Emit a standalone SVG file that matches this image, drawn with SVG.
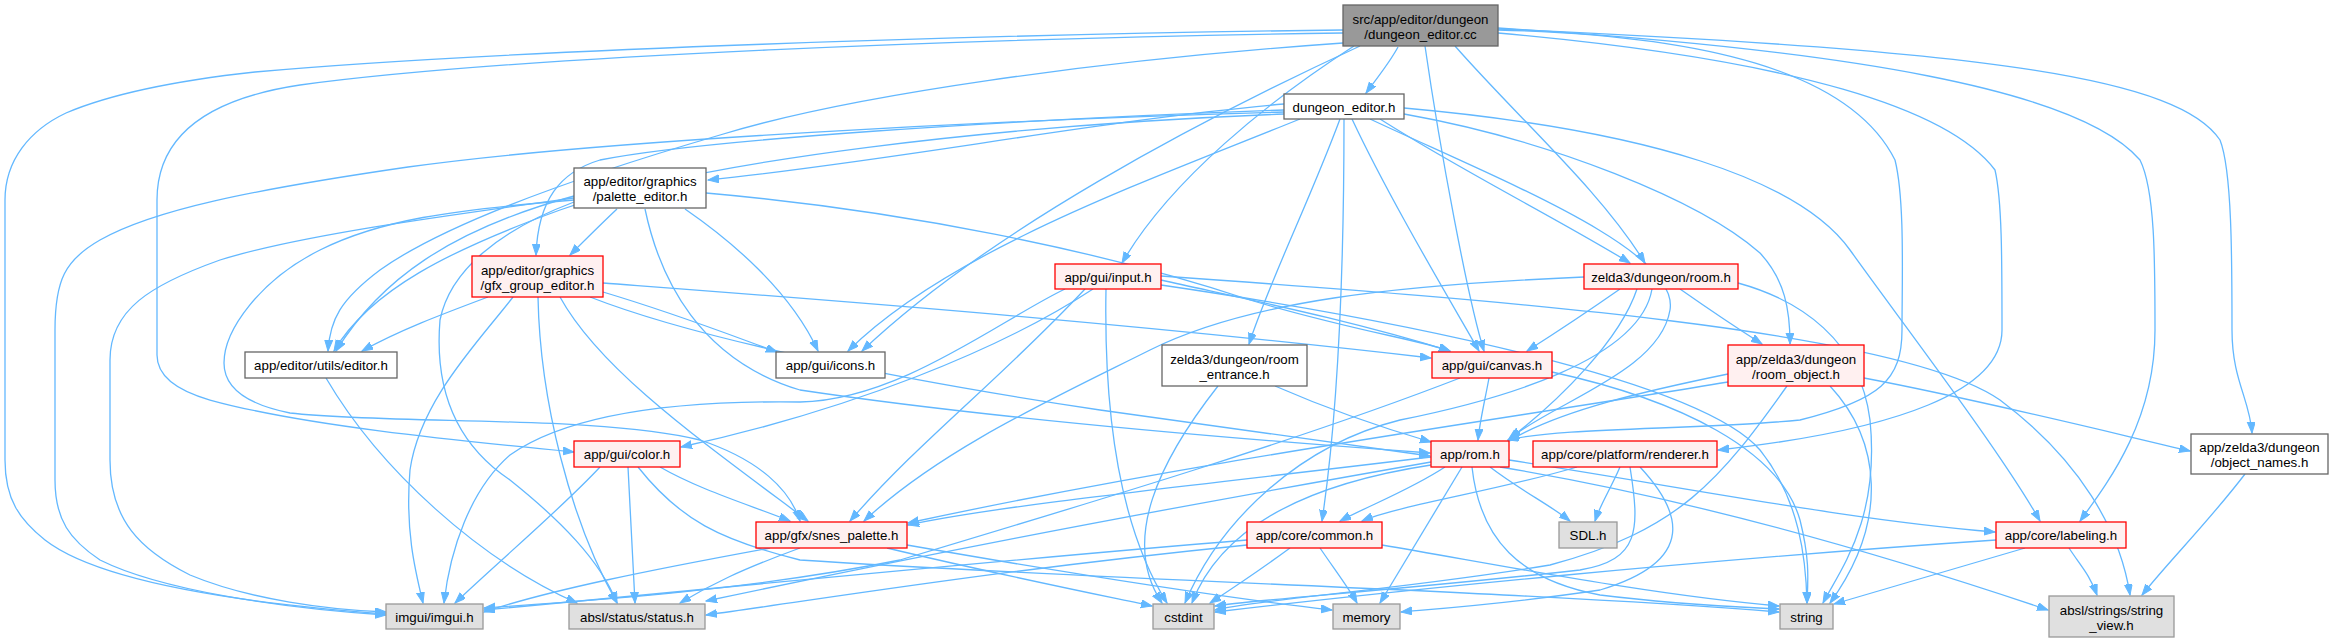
<svg xmlns="http://www.w3.org/2000/svg" width="2334" height="642" viewBox="0 0 2334 642">
<style>
.e path{fill:none;stroke:#63b8ff;stroke-width:1.3;marker-end:url(#a)}
.nd rect{stroke-width:1.3}
.w{fill:#ffffff;stroke:#666666}
.r{fill:#fff0f0;stroke:#ff0000}
.g{fill:#e0e0e0;stroke:#999999}
.m{fill:#999999;stroke:#666666}
text{font-family:"Liberation Sans",Arial,Helvetica,sans-serif;font-size:13.3px;fill:#000;text-anchor:middle}
</style>
<defs>
<marker id="a" markerUnits="userSpaceOnUse" markerWidth="12" markerHeight="9" refX="11" refY="4" orient="auto">
<path d="M0,0 L11,4 L0,8 z" fill="#63b8ff" stroke="#63b8ff" stroke-width="1"/>
</marker>
</defs>
<rect width="2334" height="642" fill="#ffffff"/>
<g class="e" id="edges">
<path d="M1398,47 C1390,62 1378,77 1366,93"/>
<path d="M1343,30 C1000,34 500,50 255,72 C200,78 120,90 66,113 C30,130 5,160 5,200 L5,460 C5,500 20,520 45,540 C90,575 200,600 386,614"/>
<path d="M1343,33 C1000,38 520,55 300,85 C200,100 157,140 157,200 L157,355 C157,375 175,390 210,400 C300,425 450,440 574,452"/>
<path d="M1360,46 C1200,120 990,230 862,351"/>
<path d="M1354,46 C1270,100 1170,180 1122,263"/>
<path d="M1425,46 C1440,150 1468,300 1484,351"/>
<path d="M1498,30 C1700,35 1850,70 1895,160 C1905,200 1902,280 1902,330 C1902,380 1880,400 1800,420 C1700,430 1560,427 1508,440"/>
<path d="M1455,46 C1520,120 1600,190 1645,263"/>
<path d="M1498,33 C1800,60 1950,110 1995,170 C2002,200 2002,260 2002,330 C2002,390 1900,430 1718,450"/>
<path d="M1498,28 C1850,50 2080,90 2140,160 C2155,190 2155,260 2155,330 C2155,420 2110,480 2080,521"/>
<path d="M1498,29 C2000,50 2180,80 2220,140 C2232,170 2232,260 2232,330 C2232,380 2250,400 2252,433"/>
<path d="M1343,43 C1100,60 850,95 720,135 C600,170 450,220 380,270 C340,300 330,320 328,351"/>
<path d="M1284,104 C1100,120 900,160 708,180"/>
<path d="M1284,110 C1000,120 700,140 600,160 C560,172 538,200 536,255"/>
<path d="M1284,112 C1000,120 600,140 408,167 C250,190 153,210 100,240 C65,260 55,280 55,330 L55,480 C55,520 70,540 100,560 C160,590 280,608 386,615"/>
<path d="M1284,114 C1000,125 700,160 560,210 C450,250 370,290 334,351"/>
<path d="M1300,119 C1150,180 950,250 848,351"/>
<path d="M1352,119 C1390,200 1450,300 1479,351"/>
<path d="M1370,119 C1500,180 1680,250 1670,310 C1660,370 1560,400 1510,438"/>
<path d="M1380,119 C1460,170 1560,220 1630,263"/>
<path d="M1340,119 C1310,200 1270,280 1249,344"/>
<path d="M1404,114 C1550,140 1700,200 1760,253 C1785,280 1790,310 1790,344"/>
<path d="M1344,119 C1344,250 1340,400 1322,521"/>
<path d="M1404,108 C1650,130 1800,180 1850,250 C1900,320 2000,450 2040,521"/>
<path d="M617,209 C600,225 585,240 570,255"/>
<path d="M574,196 C450,230 380,280 336,351"/>
<path d="M574,198 C450,215 300,235 220,260 C150,285 110,310 110,360 L110,460 C110,520 140,550 190,575 C250,600 330,610 386,612"/>
<path d="M574,200 C450,210 380,220 320,250 C260,280 224,330 224,363 C224,390 250,405 290,413 C400,425 600,415 700,440 C760,460 790,490 800,521"/>
<path d="M574,202 C500,230 450,270 440,320 C435,380 450,440 510,480 C560,520 600,560 617,603"/>
<path d="M685,209 C730,240 790,290 818,351"/>
<path d="M706,193 C900,210 1100,250 1250,300 C1350,330 1420,340 1450,351"/>
<path d="M645,209 C660,280 700,360 800,390 C1000,420 1250,440 1430,453"/>
<path d="M488,297 C440,315 400,330 362,351"/>
<path d="M513,297 C480,340 420,400 410,470 C405,530 415,570 423,603"/>
<path d="M538,297 C540,400 570,520 617,603"/>
<path d="M560,297 C600,370 700,440 808,521"/>
<path d="M590,297 C700,340 900,380 1100,410 C1250,430 1350,445 1430,456"/>
<path d="M603,292 C680,315 730,335 777,352"/>
<path d="M603,283 C800,298 1100,320 1431,358"/>
<path d="M600,467 C560,510 500,560 455,603"/>
<path d="M628,467 C630,510 633,560 635,603"/>
<path d="M660,467 C700,490 750,505 790,521"/>
<path d="M638,467 C680,520 720,540 800,560 C1100,580 1500,590 1779,612"/>
<path d="M1065,289 C1000,320 900,400 800,402 C650,400 560,420 510,455 C470,490 450,550 444,603"/>
<path d="M1085,289 C1000,380 920,440 850,521"/>
<path d="M1093,289 C1000,350 850,410 681,447"/>
<path d="M1106,289 C1104,400 1115,520 1167,603"/>
<path d="M1161,280 C1250,300 1350,320 1450,351"/>
<path d="M1161,285 C1400,320 1700,380 1760,450 C1800,500 1806,560 1807,603"/>
<path d="M1161,276 C1500,300 1900,330 2000,400 C2080,460 2120,530 2130,595"/>
<path d="M1584,277 C1400,285 1250,300 1150,350 C1050,400 940,450 864,521"/>
<path d="M1637,289 C1620,340 1560,400 1508,440"/>
<path d="M1620,289 C1590,310 1560,330 1527,351"/>
<path d="M1680,289 C1710,310 1740,330 1762,344"/>
<path d="M1738,283 C1800,300 1860,340 1870,420 C1880,520 1840,570 1823,603"/>
<path d="M1652,289 C1640,360 1500,400 1400,420 C1300,445 1220,520 1185,603"/>
<path d="M1728,374 C1650,390 1560,410 1509,441"/>
<path d="M1728,382 C1500,420 1200,460 908,523"/>
<path d="M1830,386 C1880,440 1890,520 1830,603"/>
<path d="M1864,378 C1980,400 2100,430 2190,451"/>
<path d="M1787,386 C1720,480 1680,530 1550,565 C1400,590 1250,600 1215,610"/>
<path d="M1275,386 C1330,410 1390,430 1431,442"/>
<path d="M1218,386 C1160,460 1120,540 1162,603"/>
<path d="M1489,378 C1485,400 1480,420 1478,440"/>
<path d="M1460,378 C1300,440 1100,500 900,560 C750,590 600,600 484,608"/>
<path d="M1552,372 C1680,400 1780,450 1800,520 C1810,560 1808,580 1807,603"/>
<path d="M1431,457 C1200,485 1000,505 908,525"/>
<path d="M1445,467 C1410,490 1370,505 1340,521"/>
<path d="M1431,465 C1300,485 1220,530 1192,603"/>
<path d="M1462,467 C1430,520 1400,570 1380,603"/>
<path d="M1490,467 C1520,490 1550,505 1570,521"/>
<path d="M1472,467 C1480,540 1520,580 1600,595 C1680,605 1740,607 1779,609"/>
<path d="M1500,467 C1700,500 1900,560 2048,610"/>
<path d="M1509,460 C1700,490 1850,520 1995,532"/>
<path d="M1431,462 C1100,520 900,560 706,601"/>
<path d="M1247,540 C1000,560 700,590 484,610"/>
<path d="M1247,545 C1000,570 850,595 706,615"/>
<path d="M1290,548 C1260,570 1230,590 1210,603"/>
<path d="M1320,548 C1335,570 1350,590 1357,603"/>
<path d="M1382,545 C1500,565 1650,595 1779,606"/>
<path d="M770,548 C650,570 550,590 484,612"/>
<path d="M800,548 C740,570 710,585 680,603"/>
<path d="M887,548 C1000,575 1100,595 1152,606"/>
<path d="M907,545 C1050,570 1200,595 1332,610"/>
<path d="M1620,467 C1610,490 1600,505 1595,521"/>
<path d="M1577,467 C1500,490 1400,505 1362,521"/>
<path d="M1640,467 C1680,510 1700,560 1600,590 C1500,605 1420,610 1401,612"/>
<path d="M1630,467 C1640,530 1640,560 1580,570 C1400,590 1250,600 1215,606"/>
<path d="M2025,548 C1950,570 1880,590 1834,604"/>
<path d="M2069,548 C2080,565 2090,575 2097,595"/>
<path d="M1996,540 C1700,560 1400,590 1215,612"/>
<path d="M2245,474 C2210,520 2170,560 2142,595"/>
<path d="M326,378 C380,470 480,560 577,603"/>
</g>
<g id="n_main" class="nd"><rect class="m" x="1343" y="5" width="155" height="41"/><text x="1420.5" y="23.5">src/app/editor/dungeon</text><text x="1420.5" y="38.5">/dungeon_editor.cc</text></g>
<g id="n_dungeon_editor_h" class="nd"><rect class="w" x="1284" y="94" width="120" height="25"/><text x="1344" y="111.5">dungeon_editor.h</text></g>
<g id="n_palette_editor" class="nd"><rect class="w" x="574" y="168" width="132" height="40"/><text x="640" y="186">app/editor/graphics</text><text x="640" y="201">/palette_editor.h</text></g>
<g id="n_gfx_group_editor" class="nd"><rect class="r" x="472" y="256" width="131" height="41"/><text x="537.5" y="274.5">app/editor/graphics</text><text x="537.5" y="289.5">/gfx_group_editor.h</text></g>
<g id="n_input" class="nd"><rect class="r" x="1055" y="264" width="106" height="25"/><text x="1108" y="281.5">app/gui/input.h</text></g>
<g id="n_room" class="nd"><rect class="r" x="1584" y="264" width="154" height="25"/><text x="1661" y="281.5">zelda3/dungeon/room.h</text></g>
<g id="n_editor" class="nd"><rect class="w" x="245" y="352" width="152" height="26"/><text x="321" y="370">app/editor/utils/editor.h</text></g>
<g id="n_icons" class="nd"><rect class="w" x="776" y="352" width="109" height="26"/><text x="830.5" y="370">app/gui/icons.h</text></g>
<g id="n_room_entrance" class="nd"><rect class="w" x="1162" y="345" width="145" height="41"/><text x="1234.5" y="363.5">zelda3/dungeon/room</text><text x="1234.5" y="378.5">_entrance.h</text></g>
<g id="n_canvas" class="nd"><rect class="r" x="1432" y="352" width="120" height="26"/><text x="1492" y="370">app/gui/canvas.h</text></g>
<g id="n_room_object" class="nd"><rect class="r" x="1728" y="345" width="136" height="41"/><text x="1796" y="363.5">app/zelda3/dungeon</text><text x="1796" y="378.5">/room_object.h</text></g>
<g id="n_color" class="nd"><rect class="r" x="574" y="441" width="106" height="26"/><text x="627" y="459">app/gui/color.h</text></g>
<g id="n_rom" class="nd"><rect class="r" x="1431" y="441" width="78" height="26"/><text x="1470" y="459">app/rom.h</text></g>
<g id="n_renderer" class="nd"><rect class="r" x="1533" y="441" width="184" height="26"/><text x="1625" y="459">app/core/platform/renderer.h</text></g>
<g id="n_object_names" class="nd"><rect class="w" x="2191" y="434" width="137" height="40"/><text x="2259.5" y="452">app/zelda3/dungeon</text><text x="2259.5" y="467">/object_names.h</text></g>
<g id="n_snes_palette" class="nd"><rect class="r" x="756" y="522" width="151" height="26"/><text x="831.5" y="540">app/gfx/snes_palette.h</text></g>
<g id="n_common" class="nd"><rect class="r" x="1247" y="522" width="135" height="26"/><text x="1314.5" y="540">app/core/common.h</text></g>
<g id="n_sdl" class="nd"><rect class="g" x="1559" y="522" width="58" height="26"/><text x="1588" y="540">SDL.h</text></g>
<g id="n_labeling" class="nd"><rect class="r" x="1996" y="522" width="130" height="26"/><text x="2061" y="540">app/core/labeling.h</text></g>
<g id="n_imgui" class="nd"><rect class="g" x="386" y="604" width="97" height="25"/><text x="434.5" y="621.5">imgui/imgui.h</text></g>
<g id="n_status" class="nd"><rect class="g" x="569" y="604" width="136" height="25"/><text x="637" y="621.5">absl/status/status.h</text></g>
<g id="n_cstdint" class="nd"><rect class="g" x="1153" y="604" width="61" height="25"/><text x="1183.5" y="621.5">cstdint</text></g>
<g id="n_memory" class="nd"><rect class="g" x="1333" y="604" width="67" height="25"/><text x="1366.5" y="621.5">memory</text></g>
<g id="n_string" class="nd"><rect class="g" x="1780" y="604" width="53" height="25"/><text x="1806.5" y="621.5">string</text></g>
<g id="n_string_view" class="nd"><rect class="g" x="2049" y="596" width="125" height="41"/><text x="2111.5" y="614.5">absl/strings/string</text><text x="2111.5" y="629.5">_view.h</text></g>
</svg>
